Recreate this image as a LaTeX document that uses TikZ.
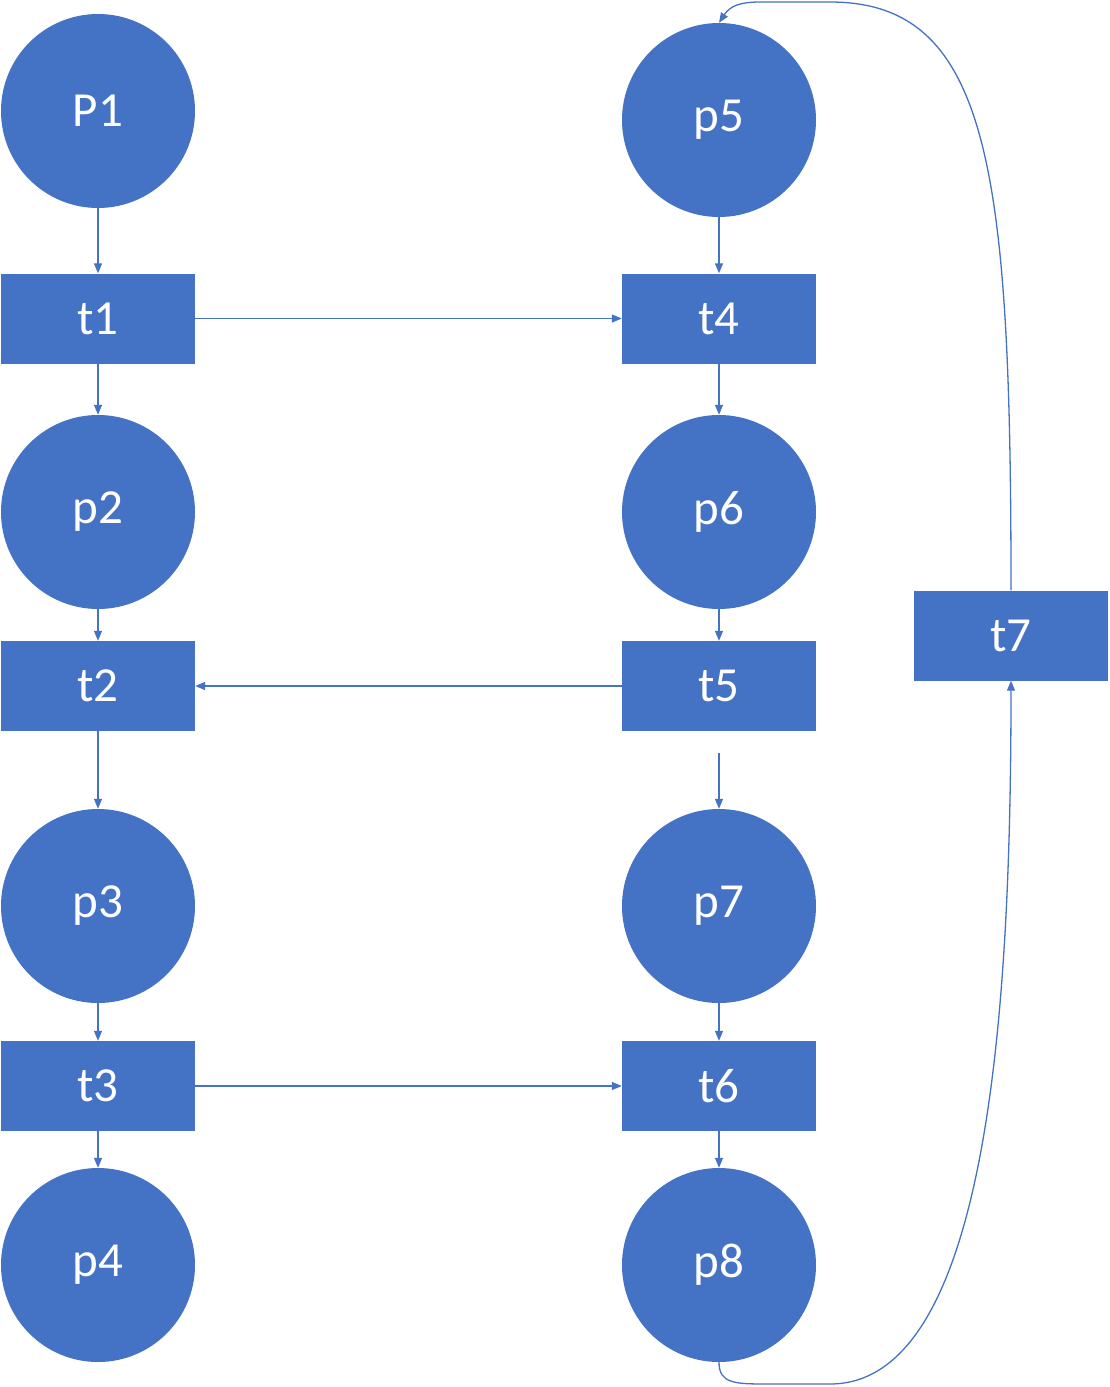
\documentclass[tikz,border=0pt]{standalone}
\usepackage{fontspec}
\setmainfont{Carlito}
\usetikzlibrary{arrows.meta}
\definecolor{officeblue}{HTML}{4472C4}

\begin{document}
\begin{tikzpicture}[x=1pt,y=-1pt,
  place/.style={circle,fill=officeblue,text=white,minimum size=194pt,inner sep=0pt},
  trans/.style={rectangle,fill=officeblue,text=white,minimum width=194pt,minimum height=90pt,inner sep=0pt},
  flow/.style={draw=officeblue,line width=1.3pt,-{Triangle[length=10pt,width=8pt]}},
  font=\fontsize{49}{54}\selectfont]

\useasboundingbox (0,0) rectangle (1110,1387);

\begin{scope}
% left column
\node[place] (p1) at (98,111) {P1};
\node[trans] (t1) at (98,318.5) {t1};
\node[place] (p2) at (98,512) {p2};
\node[trans] (t2) at (98,686) {t2};
\node[place] (p3) at (98,906) {p3};
\node[trans] (t3) at (98,1086) {t3};
\node[place] (p4) at (98,1265) {p4};

% right column
\node[place] (p5) at (719,120) {p5};
\node[trans] (t4) at (719,318.5) {t4};
\node[place] (p6) at (719,512) {p6};
\node[trans] (t5) at (719,686) {t5};
\node[place] (p7) at (719,906) {p7};
\node[trans] (t6) at (719,1086) {t6};
\node[place] (p8) at (719,1265) {p8};

\node[trans] (t7) at (1011,635.5) {t7};
\end{scope}

\draw[flow] (p1) -- (t1);
\draw[flow] (t1) -- (p2);
\draw[flow] (p2) -- (t2);
\draw[flow] (t2) -- (p3);
\draw[flow] (p3) -- (t3);
\draw[flow] (t3) -- (p4);

\draw[flow] (p5) -- (t4);
\draw[flow] (t4) -- (p6);
\draw[flow] (p6) -- (t5);
\coordinate (t5out) at (719,753);
\draw[flow] (t5out) -- (p7);
\draw[flow] (p7) -- (t6);
\draw[flow] (t6) -- (p8);

\draw[flow] (t1) -- (t4);
\draw[flow] (t5) -- (t2);
\draw[flow] (t3) -- (t6);

% loop through t7
\draw[flow] (p8.south) .. controls (719,1384) and (735,1384) .. (770,1384) -- (830,1384)
  .. controls (990,1384) and (1011,1000) .. (t7.south);
\draw[flow] (t7.north) .. controls (1011,170) and (990,2) .. (830,2) -- (760,2)
  .. controls (740,2) and (730,6) .. (p5.north);

\end{tikzpicture}
\end{document}
